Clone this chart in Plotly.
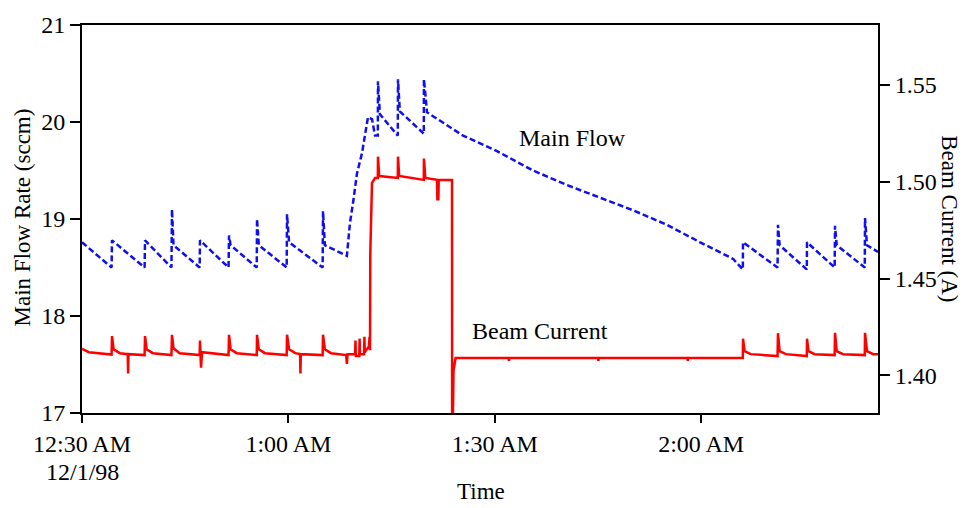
import pandas as pd
import plotly.graph_objects as go

# Start of the record (12:30 AM, 12/1/98); times below are minutes after it
t0 = pd.Timestamp("1998-12-01 00:30:00")

flow_minutes = [0, 4.3, 4.36, 9.1, 9.16, 13.0, 13.08, 13.3, 17.1, 17.15, 21.3, 21.37, 21.6,
                25.4, 25.44, 25.7, 29.75, 29.8, 30.1, 34.98, 35.03, 35.3, 38.5, 38.95, 39.4,
                39.97, 40.7, 41.13, 41.57, 42.15, 42.59, 43.0, 43.02, 43.3, 45.9, 45.93, 46.2,
                49.68, 49.7, 50.15, 55.38, 60.32, 65.55, 70.49, 75.29, 80.09, 85.03, 89.83,
                94.62, 96.05, 96.08, 101.1, 101.16, 101.4, 105.35, 105.38, 109.4, 109.45,
                109.7, 113.78, 113.81, 114.1, 115.7]
flow_sccm = [18.76, 18.50, 18.78, 18.50, 18.78, 18.50, 19.10, 18.73, 18.50, 18.78, 18.50, 18.83, 18.73,
             18.50, 19.00, 18.73, 18.50, 19.05, 18.76, 18.50, 19.08, 18.73, 18.62, 18.96, 19.17,
             19.47, 19.68, 19.85, 20.05, 20.03, 19.86, 19.86, 20.42, 20.08, 19.86, 20.44, 20.11,
             19.88, 20.44, 20.10, 19.86, 19.70, 19.50, 19.35, 19.22, 19.09, 18.94, 18.76,
             18.59, 18.48, 18.76, 18.50, 18.94, 18.73, 18.48, 18.76, 18.50, 18.93,
             18.73, 18.50, 19.01, 18.73, 18.66]

beam_minutes = [0, 1.0, 4.3, 4.36, 4.6, 5.5, 6.65, 6.7, 6.75, 9.1, 9.16, 9.4, 10.3, 13.0, 13.08, 13.3,
                14.2, 17.1, 17.15, 17.3, 17.45, 21.3, 21.37, 21.6, 22.5, 25.4, 25.44, 25.7, 26.6,
                29.75, 29.8, 30.1, 31.0, 31.7, 31.75, 31.8, 34.98, 35.03, 35.3, 36.2, 38.4, 38.5,
                38.6, 39.7, 39.75, 39.8, 40.3, 40.35, 40.4, 41.0, 41.05, 41.1, 41.7, 41.8, 41.86,
                41.9, 42.15, 42.6, 43.0, 43.02, 43.2, 45.9, 45.93, 46.1, 49.68, 49.7, 49.9, 51.6,
                51.65, 51.8, 51.85, 53.78, 53.8, 53.92, 54.0, 54.3, 62.0, 62.05, 62.1, 75.0, 75.05,
                75.1, 88.0, 88.05, 88.1, 96.05, 96.08, 96.3, 97.2, 101.1, 101.16, 101.4, 102.3,
                105.35, 105.38, 105.6, 106.5, 109.4, 109.45, 109.7, 110.6, 113.78, 113.81, 114.1,
                115.0, 115.7]
beam_amps = [1.4137, 1.412, 1.4108, 1.4203, 1.4135, 1.4115, 1.411, 1.401, 1.411, 1.4105, 1.4203, 1.4135,
             1.4115, 1.4105, 1.421, 1.414, 1.4115, 1.4105, 1.418, 1.404, 1.412, 1.4105, 1.421, 1.4135,
             1.4115, 1.4105, 1.421, 1.4135, 1.4115, 1.4105, 1.421, 1.4135, 1.4115, 1.411, 1.401, 1.411,
             1.4105, 1.421, 1.4135, 1.4115, 1.4105, 1.406, 1.411, 1.411, 1.418, 1.410, 1.410, 1.419,
             1.411, 1.411, 1.420, 1.412, 1.415, 1.420, 1.413, 1.4626, 1.4994, 1.502, 1.502, 1.513,
             1.503, 1.502, 1.513, 1.503, 1.501, 1.512, 1.502, 1.501, 1.491, 1.491, 1.501, 1.501,
             1.370, 1.3806, 1.4024, 1.409, 1.409, 1.4075, 1.409, 1.409, 1.4075, 1.409, 1.409,
             1.4075, 1.409, 1.409, 1.419, 1.4125, 1.411, 1.410, 1.4218, 1.4125, 1.411, 1.410,
             1.419, 1.4125, 1.411, 1.4105, 1.422, 1.4125, 1.411, 1.4105, 1.422, 1.4125, 1.411,
             1.411]

x_tick_minutes = [0, 30, 60, 90]
x_tick_text = ["12:30 AM", "1:00 AM", "1:30 AM", "2:00 AM"]
start_date_text = "12/1/98"
x_end_minutes = 115.7


def at(minutes):
    return [t0 + pd.Timedelta(minutes=m) for m in minutes]


FONT = "Liberation Serif, Times New Roman, serif"
TICK_SIZE = 24
TITLE_SIZE = 23
LABEL_SIZE = 24

fig = go.Figure()
fig.add_trace(go.Scatter(
    x=at(flow_minutes), y=flow_sccm, mode="lines", name="Main Flow",
    line=dict(color="#1010ee", width=2.5, dash="6px,3px"),
    yaxis="y"))
fig.add_trace(go.Scatter(
    x=at(beam_minutes), y=beam_amps, mode="lines", name="Beam Current",
    line=dict(color="#ff0000", width=2.5),
    yaxis="y2"))


def label(text, x, y, size, angle=0):
    return dict(text=text, xref="paper", yref="paper", x=x, y=y,
                xanchor="center", yanchor="middle", textangle=angle,
                showarrow=False, font=dict(size=size))


fig.update_layout(
    width=963, height=508,
    margin=dict(l=82, r=85, t=20, b=95),
    paper_bgcolor="white", plot_bgcolor="white",
    showlegend=False,
    font=dict(family=FONT, size=TICK_SIZE, color="black"),
    xaxis=dict(
        range=at([0, x_end_minutes]),
        tickvals=at(x_tick_minutes), ticktext=x_tick_text,
        showgrid=False, zeroline=False,
        showline=True, linecolor="black", linewidth=2, mirror=True,
        ticks="outside", ticklen=8, tickwidth=1.5, tickcolor="black",
        tickfont=dict(size=TICK_SIZE),
    ),
    yaxis=dict(
        range=[17, 21], tickvals=[17, 18, 19, 20, 21],
        showgrid=False, zeroline=False,
        showline=True, linecolor="black", linewidth=2,
        ticks="outside", ticklen=10, tickwidth=2, tickcolor="black",
        tickfont=dict(size=TICK_SIZE),
    ),
    yaxis2=dict(
        overlaying="y", side="right",
        range=[1.3806, 1.581], tickvals=[1.40, 1.45, 1.50, 1.55], tickformat=".2f",
        showgrid=False, zeroline=False,
        showline=True, linecolor="black", linewidth=2,
        ticks="outside", ticklen=10, tickwidth=2, tickcolor="black",
        tickfont=dict(size=TICK_SIZE),
    ),
    annotations=[
        label(start_date_text, 0.0, -0.152, TICK_SIZE),
        label("Main Flow Rate (sccm)", -0.0754, 0.504, TITLE_SIZE, -90),
        label("Beam Current (A)", 1.0905, 0.502, TITLE_SIZE, 90),
        label("Time", 0.501, -0.2036, TITLE_SIZE),
        label("Main Flow", 0.6156, 0.708, LABEL_SIZE),
        label("Beam Current", 0.5754, 0.211, LABEL_SIZE),
    ],
)

fig.write_html("out.html")
